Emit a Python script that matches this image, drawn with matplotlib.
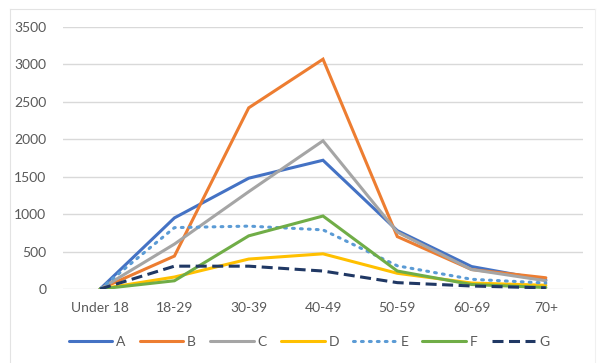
import matplotlib
matplotlib.use("Agg")
import matplotlib.pyplot as plt
from matplotlib.lines import Line2D

plt.rcParams['font.family'] = ['Lato', 'DejaVu Sans']

categories = ["Under 18", "18-29", "30-39", "40-49", "50-59", "60-69", "70+"]
series_a = [0, 950, 1480, 1720, 780, 300, 120]
series_b = [0, 440, 2420, 3070, 700, 260, 150]
series_c = [0, 600, 1300, 1980, 760, 260, 110]
series_d = [0, 160, 400, 470, 210, 80, 50]
series_e = [0, 820, 840, 790, 310, 130, 80]
series_f = [0, 110, 710, 975, 240, 60, 20]
series_g = [0, 305, 305, 240, 85, 40, 15]
y_ticks = [0, 500, 1000, 1500, 2000, 2500, 3000, 3500]

series = [
    ("A", series_a, "#4472C4", "-"),
    ("B", series_b, "#ED7D31", "-"),
    ("C", series_c, "#A5A5A5", "-"),
    ("D", series_d, "#FFC000", "-"),
    ("E", series_e, "#5B9BD5", (0, (0.6, 2.0))),
    ("F", series_f, "#70AD47", "-"),
    ("G", series_g, "#203864", (0, (3.6, 1.8))),
]

W, H = 600, 363
fig = plt.figure(figsize=(W / 100, H / 100), dpi=100)
ax = fig.add_axes([63 / W, 1 - 289 / H, 520 / W, 262 / H])

# chart frame: left, top and right edges (bottom runs off the canvas)
frame_kw = dict(transform=fig.transFigure, color="#E3E3E3", linewidth=0.8)
fig.add_artist(Line2D([10 / W, 10 / W], [0, 1 - 9 / H], **frame_kw))
fig.add_artist(Line2D([10 / W, 595 / W], [1 - 9 / H, 1 - 9 / H], **frame_kw))
fig.add_artist(Line2D([595 / W, 595 / W], [0, 1 - 9 / H],
                      transform=fig.transFigure, color="#F0F0F0", linewidth=0.8))

x = list(range(len(categories)))
for name, vals, color, ls in series:
    ax.plot(x, vals, color=color, linestyle=ls, linewidth=2.2,
            label=name, solid_capstyle="round",
            dash_capstyle="round" if name == "E" else "butt",
            solid_joinstyle="miter")

ax.set_xlim(-0.5, len(categories) - 0.5)
ax.set_ylim(0, 3500)
ax.set_yticks(y_ticks)
ax.set_yticklabels([str(v) for v in y_ticks])
ax.set_xticks(x)
ax.set_xticklabels(categories)
ax.yaxis.grid(True, color="#D9D9D9", linewidth=1.0)
ax.set_axisbelow(True)
for s in ax.spines.values():
    s.set_visible(False)
ax.tick_params(axis="both", length=0, colors="#595959", labelsize=10)
ax.tick_params(axis="y", pad=12)
ax.tick_params(axis="x", pad=9)

leg = ax.legend(loc="center", bbox_to_anchor=(0.473, -0.202), ncol=7,
                frameon=False, fontsize=10, handlelength=3.15, handletextpad=0.28,
                columnspacing=1.0, borderpad=0, borderaxespad=0)
for t in leg.get_texts():
    t.set_color("#595959")

fig.savefig("out.png", dpi=100)
